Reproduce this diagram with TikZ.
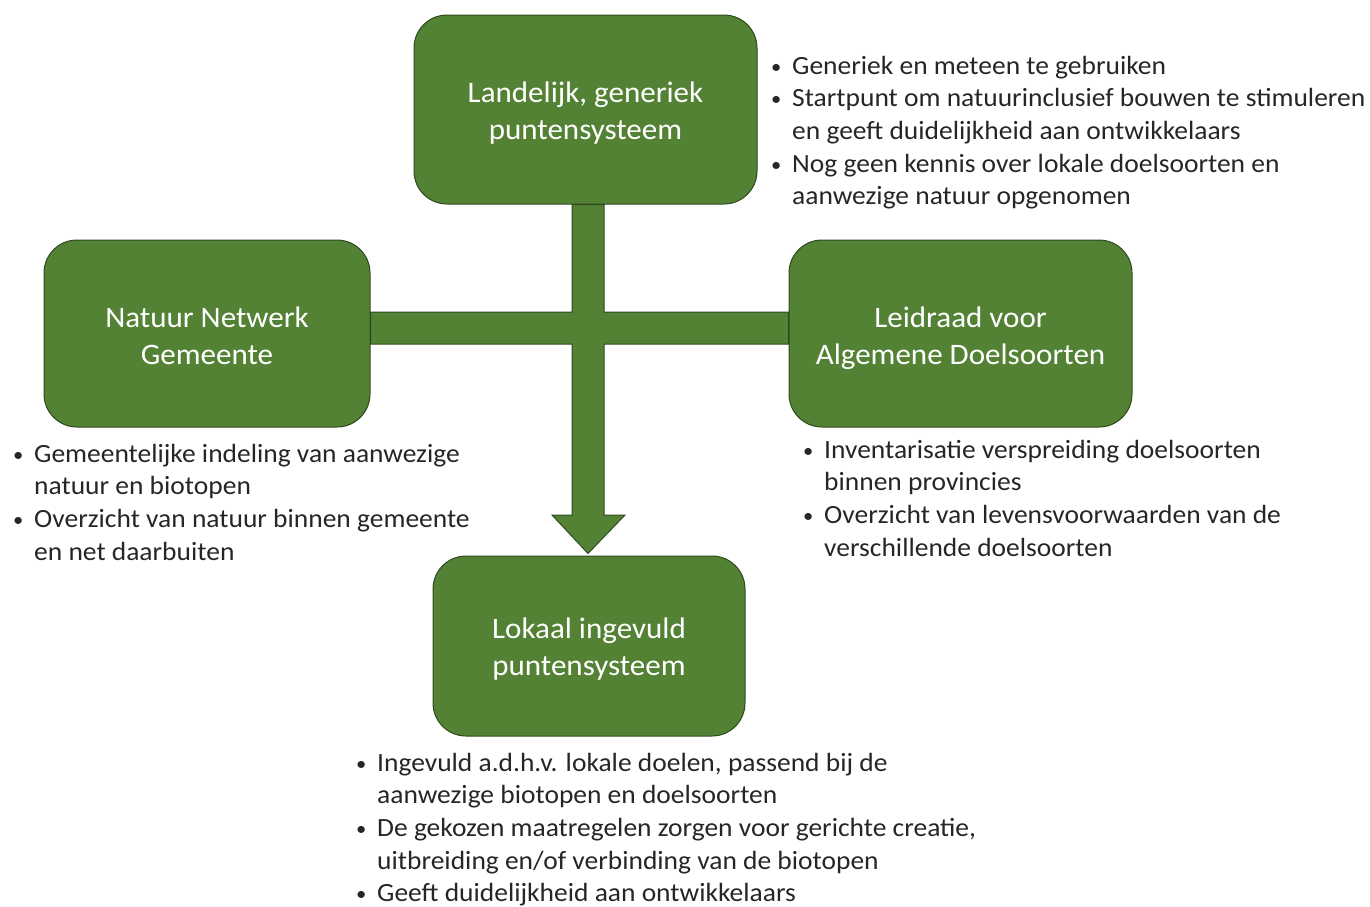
\documentclass[tikz,border=0pt]{standalone}
\usepackage{fontspec}
\setmainfont{Carlito}[FakeStretch=1.045]
\usetikzlibrary{calc}
\definecolor{boxgreen}{HTML}{548235}
\definecolor{boxline}{HTML}{2F4A1F}
\definecolor{notetext}{HTML}{262626}
\newcommand{\bl}{\makebox[21pt][l]{\raisebox{1pt}{\scalebox{0.75}{\textbullet}}}}
\newcommand{\nb}{\makebox[21pt][l]{}}
\newcommand{\bt}[2]{\raisebox{-#1}[\height][\depth]{\begin{tabular}{@{}c@{}}#2\end{tabular}}}
\begin{document}
\begin{tikzpicture}[x=1pt,y=1pt,
  box/.style={draw=boxline, line width=1pt, fill=boxgreen, rounded corners=33pt,
    text=white, align=center, font=\fontsize{29.7}{37}\selectfont, inner sep=0pt},
  note/.style={anchor=base west, inner sep=0pt, text=notetext,
    font=\fontsize{26.3}{32.7}\selectfont, align=left},
  conn/.style={draw=boxline, line width=1pt, fill=boxgreen, line join=miter}]
\useasboundingbox (0,0) rectangle (1370,-906);
\node[box, minimum width=343, minimum height=189] (top) at (585.5,-109.5) {\bt{4pt}{Landelijk, generiek\\puntensysteem}};
\node[box, minimum width=326, minimum height=187] (left) at (207,-333.5) {\bt{5pt}{Natuur Netwerk\\Gemeente}};
\node[box, minimum width=343, minimum height=187] (right) at (960.5,-333.5) {\bt{5pt}{Leidraad voor\\Algemene Doelsoorten}};
\node[box, minimum width=312, minimum height=180] (bottom) at (589,-646) {\bt{3.5pt}{Lokaal ingevuld\\puntensysteem}};
% connector
\coordinate (vl) at (572,-328);
\coordinate (vr) at (604,-328);
\coordinate (ht) at (588,-312);
\coordinate (hb) at (588,-344);
\coordinate (hd) at (588,-515);
\coordinate (hub) at (588,-328);
\path[conn] (vl |- top.south) -- (vl |- ht) -- (left.east |- ht) -- (left.east |- hb)
  -- (vl |- hb) -- (vl |- hd) -- ($(vl |- hd)+(-20,0)$) -- ($(hub |- bottom.north)+(0,2)$)
  -- ($(vr |- hd)+(21,0)$) -- (vr |- hd) -- (vr |- hb) -- (right.west |- hb)
  -- (right.west |- ht) -- (vr |- ht) -- (vr |- top.south) -- cycle;
% notes
\node[note] (ntop) at (771,-74) {\begin{tabular}[t]{@{}l@{}}
\bl Generiek en meteen te gebruiken\\
\bl Startpunt om natuurinclusief bouwen te stimuleren\\
\nb en geeft duidelijkheid aan ontwikkelaars\\
\bl Nog geen kennis over lokale doelsoorten en\\
\nb aanwezige natuur opgenomen\end{tabular}};
\node[note] (nleft) at (13,-462) {\begin{tabular}[t]{@{}l@{}}
\bl Gemeentelijke indeling van aanwezige\\
\nb natuur en biotopen\\
\bl Overzicht van natuur binnen gemeente\\
\nb en net daarbuiten\end{tabular}};
\node[note] (nright) at (803,-458) {\begin{tabular}[t]{@{}l@{}}
\bl Inventarisatie verspreiding doelsoorten\\
\nb binnen provincies\\
\bl Overzicht van levensvoorwaarden van de\\
\nb verschillende doelsoorten\end{tabular}};
\node[note] (nbottom) at (356,-771) {\begin{tabular}[t]{@{}l@{}}
\bl Ingevuld a.d.h.v. lokale doelen, passend bij de\\
\nb aanwezige biotopen en doelsoorten\\
\bl De gekozen maatregelen zorgen voor gerichte creatie,\\
\nb uitbreiding en/of verbinding van de biotopen\\
\bl Geeft duidelijkheid aan ontwikkelaars\end{tabular}};
\end{tikzpicture}
\end{document}
